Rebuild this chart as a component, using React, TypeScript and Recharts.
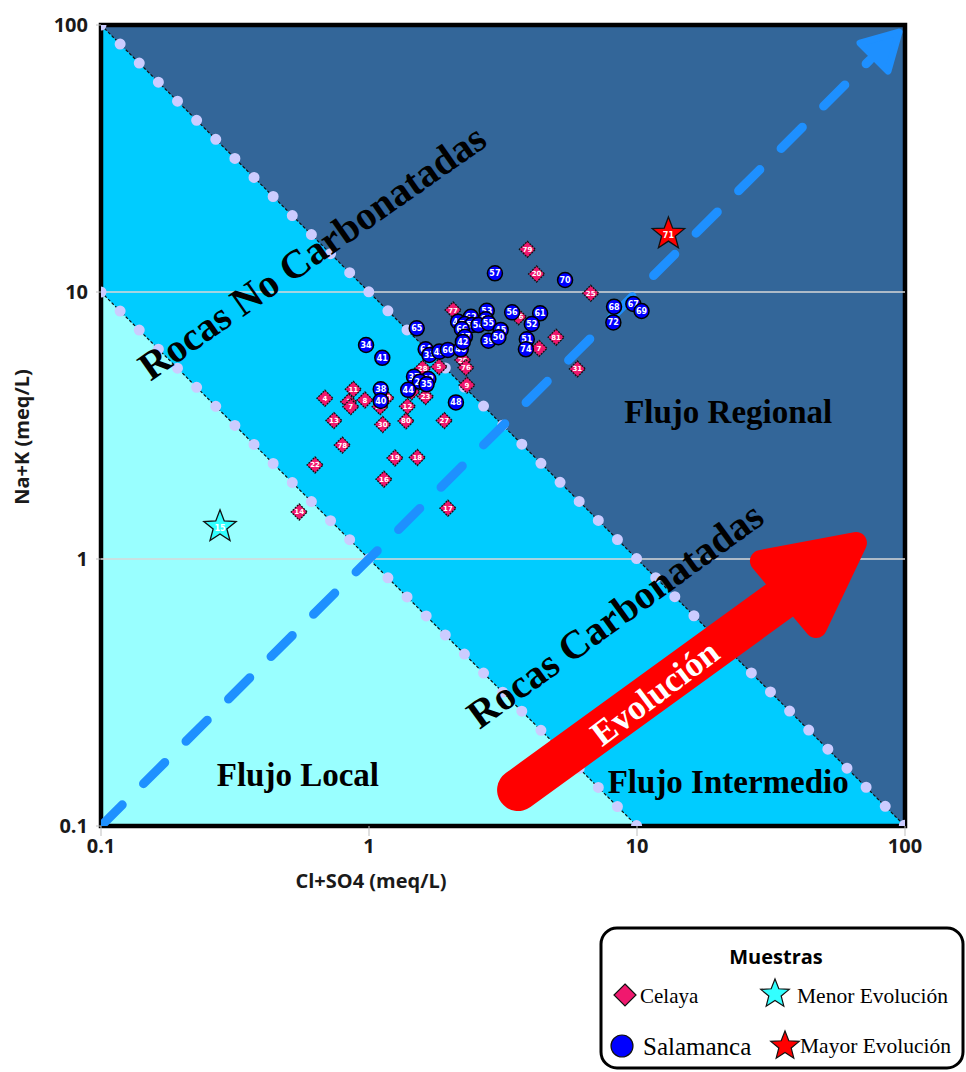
import {
  ComposedChart,
  Area,
  Line,
  Scatter,
  XAxis,
  YAxis,
  ReferenceLine,
  ReferenceArea,
  ReferenceDot,
} from "recharts";

// log axes, 0.1 .. 100 meq/L on both
const axisTicks = [0.1, 1, 10, 100];

// zone boundaries: Cl+SO4 * Na+K = 10 and = 1
const zoneMid = [
  { x: 0.1, y: 100 },
  { x: 100, y: 0.1 },
];
const zoneLow = [
  { x: 0.1, y: 10 },
  { x: 10, y: 0.1 },
];

// 1:1 evolution trend
const trendLine = [
  { x: 0.1, y: 0.1 },
  { x: 74, y: 74 },
];
const trendHead = { x: 100, y: 100 };

// big "Evolución" arrow
const evolShaft = [
  { x: 3.6, y: 0.1364 },
  { x: 36.7, y: 0.739 },
];
const evolHead = { x: 65.6, y: 1.148 };

const celayaPoints = [
  { id: "4", x: 0.685, y: 4.0 },
  { id: "11", x: 0.874, y: 4.32 },
  { id: "8", x: 0.966, y: 3.94 },
  { id: "3", x: 0.84, y: 3.88 },
  { id: "7", x: 0.855, y: 3.72 },
  { id: "21", x: 1.1, y: 3.72 },
  { id: "10", x: 1.157, y: 4.01 },
  { id: "13", x: 0.74, y: 3.3 },
  { id: "30", x: 1.125, y: 3.19 },
  { id: "80", x: 1.374, y: 3.29 },
  { id: "12", x: 1.392, y: 3.73 },
  { id: "78", x: 0.795, y: 2.67 },
  { id: "22", x: 0.629, y: 2.25 },
  { id: "19", x: 1.25, y: 2.39 },
  { id: "18", x: 1.514, y: 2.4 },
  { id: "16", x: 1.137, y: 1.99 },
  { id: "14", x: 0.549, y: 1.5 },
  { id: "17", x: 1.97, y: 1.55 },
  { id: "23", x: 1.625, y: 4.06 },
  { id: "6", x: 1.443, y: 4.23 },
  { id: "28", x: 1.586, y: 5.18 },
  { id: "5", x: 1.825, y: 5.25 },
  { id: "27", x: 1.91, y: 3.3 },
  { id: "29", x: 2.24, y: 5.56 },
  { id: "76", x: 2.3, y: 5.21 },
  { id: "9", x: 2.32, y: 4.48 },
  { id: "77", x: 2.06, y: 8.56 },
  { id: "26", x: 3.61, y: 8.08 },
  { id: "79", x: 3.9, y: 14.45 },
  { id: "20", x: 4.22, y: 11.68 },
  { id: "25", x: 6.72, y: 9.89 },
  { id: "81", x: 4.99, y: 6.77 },
  { id: "7", x: 4.31, y: 6.15 },
  { id: "31", x: 5.99, y: 5.15 },
];

const salamancaPoints = [
  { id: "65", x: 1.507, y: 7.31 },
  { id: "34", x: 0.975, y: 6.33 },
  { id: "41", x: 1.121, y: 5.67 },
  { id: "64", x: 1.627, y: 6.1 },
  { id: "33", x: 1.68, y: 5.81 },
  { id: "49", x: 1.83, y: 5.98 },
  { id: "60", x: 1.97, y: 6.07 },
  { id: "46", x: 2.2, y: 6.1 },
  { id: "37", x: 1.472, y: 4.82 },
  { id: "32", x: 1.665, y: 4.72 },
  { id: "24", x: 1.55, y: 4.61 },
  { id: "35", x: 1.64, y: 4.51 },
  { id: "38", x: 1.106, y: 4.32 },
  { id: "40", x: 1.106, y: 3.91 },
  { id: "44", x: 1.4, y: 4.3 },
  { id: "48", x: 2.11, y: 3.86 },
  { id: "43", x: 2.15, y: 7.74 },
  { id: "62", x: 2.4, y: 8.08 },
  { id: "53", x: 2.75, y: 8.51 },
  { id: "63", x: 2.73, y: 7.9 },
  { id: "59", x: 2.28, y: 7.59 },
  { id: "58", x: 2.42, y: 7.52 },
  { id: "54", x: 2.56, y: 7.52 },
  { id: "55", x: 2.79, y: 7.64 },
  { id: "66", x: 2.22, y: 7.27 },
  { id: "47", x: 2.28, y: 6.8 },
  { id: "42", x: 2.24, y: 6.5 },
  { id: "45", x: 3.1, y: 7.21 },
  { id: "39", x: 2.79, y: 6.57 },
  { id: "50", x: 3.04, y: 6.77 },
  { id: "56", x: 3.42, y: 8.39 },
  { id: "51", x: 3.88, y: 6.65 },
  { id: "74", x: 3.85, y: 6.1 },
  { id: "57", x: 2.95, y: 11.75 },
  { id: "70", x: 5.39, y: 11.09 },
  { id: "61", x: 4.35, y: 8.32 },
  { id: "52", x: 4.05, y: 7.59 },
  { id: "68", x: 8.21, y: 8.81 },
  { id: "72", x: 8.16, y: 7.69 },
  { id: "67", x: 9.69, y: 9.02 },
  { id: "69", x: 10.4, y: 8.49 },
];

const menorEvolucion = [{ id: "15", x: 0.278, y: 1.32 }];
const mayorEvolucion = [{ id: "71", x: 13.1, y: 16.5 }];

// rotated zone names, anchored at their centres
const zoneLabels = [
  { text: "Rocas No Carbonatadas", x: 0.613, y: 14.1, angle: -35, size: 40 },
  { text: "Rocas Carbonatadas", x: 8.28, y: 0.617, angle: -36, size: 40 },
  { text: "Flujo Regional", x: 21.9, y: 3.55, angle: 0, size: 33 },
  { text: "Flujo Local", x: 0.543, y: 0.155, angle: 0, size: 33 },
  { text: "Flujo Intermedio", x: 21.9, y: 0.146, angle: 0, size: 33 },
];

const SERIF = "'Liberation Serif', 'Times New Roman', serif";
const SANS = "'Open Sans', 'DejaVu Sans', sans-serif";

const COLORS = {
  regional: "#336699",
  intermedio: "#00CCFF",
  local: "#99FFFF",
  celaya: "#F0186E",
  salamanca: "#0000FF",
  trend: "#1E90FF",
  arrow: "#FF0000",
  boundaryDots: "#CCCCFF",
};

function starPoints(cx: number, cy: number, R: number, r: number) {
  const pts: string[] = [];
  for (let i = 0; i < 10; i++) {
    const rad = i % 2 === 0 ? R : r;
    const a = -Math.PI / 2 + (i * Math.PI) / 5;
    pts.push(`${cx + rad * Math.cos(a)},${cy + rad * Math.sin(a)}`);
  }
  return pts.join(" ");
}

const DiamondMark = (props: any) => {
  const { cx, cy, payload } = props;
  if (cx == null || cy == null) return null;
  const h = 8;
  return (
    <g>
      <polygon
        points={`${cx},${cy - h} ${cx + h},${cy} ${cx},${cy + h} ${cx - h},${cy}`}
        fill={COLORS.celaya}
        stroke="#111"
        strokeWidth={1.3}
        strokeDasharray="2 1"
      />
      <text
        x={cx}
        y={cy + 0.5}
        textAnchor="middle"
        dominantBaseline="central"
        fontSize={7}
        fontWeight="bold"
        fontFamily="'DejaVu Sans', sans-serif"
        fill="#fff"
      >
        {payload.id}
      </text>
    </g>
  );
};

const CircleMark = (props: any) => {
  const { cx, cy, payload } = props;
  if (cx == null || cy == null) return null;
  return (
    <g>
      <circle cx={cx} cy={cy} r={7.5} fill={COLORS.salamanca} stroke="#000" strokeWidth={1.5} />
      <text
        x={cx}
        y={cy + 0.5}
        textAnchor="middle"
        dominantBaseline="central"
        fontSize={8}
        fontWeight="bold"
        fontFamily="'DejaVu Sans', sans-serif"
        fill="#fff"
      >
        {payload.id}
      </text>
    </g>
  );
};

const starMark = (fill: string) => (props: any) => {
  const { cx, cy, payload } = props;
  if (cx == null || cy == null) return null;
  return (
    <g>
      <polygon points={starPoints(cx, cy, 17, 7.2)} fill={fill} stroke="#111" strokeWidth={1.3} />
      <text
        x={cx}
        y={cy + 1.5}
        textAnchor="middle"
        dominantBaseline="central"
        fontSize={8}
        fontWeight="bold"
        fontFamily="'DejaVu Sans', sans-serif"
        fill="#fff"
      >
        {payload.id}
      </text>
    </g>
  );
};

const tickStyle = { fontSize: 20, fontWeight: 700, fill: "#1a1a1a", fontFamily: SANS };
const fmtTick = (v: number) => String(v);

function Legend() {
  return (
    <svg
      width={368}
      height={147}
      style={{ position: "absolute", left: 598, top: 925 }}
    >
      <rect x={3} y={3} width={362} height={140} rx={16} fill="#fff" stroke="#000" strokeWidth={3} />
      <text x={178} y={39} textAnchor="middle" fontFamily={SANS} fontWeight={700} fontSize={20}>
        Muestras
      </text>
      <polygon points="27,59 38,70 27,81 16,70" fill={COLORS.celaya} stroke="#111" strokeWidth={1.2} />
      <text x={42} y={78} fontFamily={SERIF} fontSize={21}>
        Celaya
      </text>
      <polygon points={starPoints(177, 69, 15, 6.5)} fill="#33FFFF" stroke="#111" strokeWidth={1.2} />
      <text x={199} y={78} fontFamily={SERIF} fontSize={21.5}>
        Menor Evolución
      </text>
      <circle cx={24} cy={121} r={11} fill={COLORS.salamanca} stroke="#111" strokeWidth={1.2} />
      <text x={45} y={130} fontFamily={SERIF} fontSize={25}>
        Salamanca
      </text>
      <polygon points={starPoints(187, 121, 15, 6.5)} fill={COLORS.arrow} stroke="#111" strokeWidth={1.2} />
      <text x={202} y={128} fontFamily={SERIF} fontSize={21.5}>
        Mayor Evolución
      </text>
    </svg>
  );
}

export default function App() {
  return (
    <div style={{ position: "absolute", left: 0, top: 0, width: 966, height: 1072, background: "#fff" }}>
      <ComposedChart width={966} height={920} margin={{ top: 25, right: 61, bottom: 34, left: 0 }}>
        <XAxis
          dataKey="x"
          type="number"
          scale="log"
          domain={[0.1, 100]}
          allowDataOverflow
          ticks={axisTicks}
          tickFormatter={fmtTick}
          tick={tickStyle}
          tickSize={10}
          tickMargin={3}
          tickLine={{ stroke: "#BFBFBF" }}
          axisLine={false}
          height={60}
          label={({ viewBox }: any) => (
            <text
              x={viewBox.x + 270}
              y={viewBox.y + 62}
              textAnchor="middle"
              fontFamily={SANS}
              fontWeight={700}
              fontSize={20}
              fill="#1a1a1a"
            >
              Cl+SO4 (meq/L)
            </text>
          )}
        />
        <YAxis
          dataKey="y"
          type="number"
          scale="log"
          domain={[0.1, 100]}
          allowDataOverflow
          ticks={axisTicks}
          tickFormatter={fmtTick}
          tick={tickStyle}
          tickSize={5}
          tickMargin={8}
          tickLine={{ stroke: "#BFBFBF" }}
          axisLine={false}
          width={101}
          label={({ viewBox }: any) => (
            <text
              x={29}
              y={viewBox.y + 412}
              transform={`rotate(-90 29 ${viewBox.y + 412})`}
              textAnchor="middle"
              fontFamily={SANS}
              fontWeight={700}
              fontSize={20}
              fill="#1a1a1a"
            >
              Na+K (meq/L)
            </text>
          )}
        />

        {/* Flujo Regional fills the whole plot; the other zones sit on top */}
        <ReferenceArea x1={0.1} x2={100} y1={0.1} y2={100} fill={COLORS.regional} fillOpacity={1} stroke="none" />
        <Area
          data={zoneMid}
          dataKey="y"
          type="linear"
          baseValue={0.1}
          fill={COLORS.intermedio}
          fillOpacity={1}
          stroke="none"
          isAnimationActive={false}
        />
        <Area
          data={zoneLow}
          dataKey="y"
          type="linear"
          baseValue={0.1}
          fill={COLORS.local}
          fillOpacity={1}
          stroke="none"
          isAnimationActive={false}
        />

        <ReferenceLine y={10} stroke="#D9D9D9" strokeWidth={1.5} />
        <ReferenceLine y={1} stroke="#D9D9D9" strokeWidth={1.5} />

        {/* plot frame */}
        <ReferenceArea x1={0.1} x2={100} y1={0.1} y2={100} fill="none" stroke="#000" strokeWidth={4.5} />

        {/* zone boundaries: thin black dashes under lavender dots */}
        {[zoneMid, zoneLow].map((d, i) => (
          <Line
            key={`b${i}`}
            data={d}
            dataKey="y"
            type="linear"
            stroke="#111"
            strokeWidth={1.2}
            strokeDasharray="3 2"
            dot={false}
            activeDot={false}
            isAnimationActive={false}
          />
        ))}
        {[zoneMid, zoneLow].map((d, i) => (
          <Line
            key={`d${i}`}
            data={d}
            dataKey="y"
            type="linear"
            stroke={COLORS.boundaryDots}
            strokeWidth={11}
            strokeLinecap="round"
            strokeDasharray="0 27"
            dot={false}
            activeDot={false}
            isAnimationActive={false}
          />
        ))}

        <Line
          data={trendLine}
          dataKey="y"
          type="linear"
          stroke={COLORS.trend}
          strokeWidth={9}
          strokeLinecap="round"
          strokeDasharray="30 30"
          dot={false}
          activeDot={false}
          isAnimationActive={false}
        />
        <ReferenceDot
          x={trendHead.x}
          y={trendHead.y}
          ifOverflow="visible"
          shape={(p: any) => (
            <polygon
              points={`${p.cx - 6},${p.cy + 7} ${p.cx - 45},${p.cy + 18} ${p.cx - 17},${p.cy + 46}`}
              fill={COLORS.trend}
              stroke={COLORS.trend}
              strokeWidth={7}
              strokeLinejoin="round"
            />
          )}
        />

        <Line
          data={evolShaft}
          dataKey="y"
          type="linear"
          stroke={COLORS.arrow}
          strokeWidth={42}
          strokeLinecap="round"
          dot={false}
          activeDot={false}
          isAnimationActive={false}
        />
        <ReferenceDot
          x={evolHead.x}
          y={evolHead.y}
          ifOverflow="visible"
          shape={(p: any) => (
            <polygon
              points={`${p.cx},${p.cy} ${p.cx - 95},${p.cy + 18} ${p.cx - 40},${p.cy + 84}`}
              fill={COLORS.arrow}
              stroke={COLORS.arrow}
              strokeWidth={22}
              strokeLinejoin="round"
            />
          )}
        />
        <ReferenceDot
          x={11.67}
          y={0.315}
          shape={(p: any) => (
            <text
              x={p.cx}
              y={p.cy}
              transform={`rotate(-37 ${p.cx} ${p.cy})`}
              textAnchor="middle"
              dominantBaseline="central"
              fontFamily={SERIF}
              fontWeight={700}
              fontSize={35}
              fill="#fff"
            >
              Evolución
            </text>
          )}
        />

        {zoneLabels.map((l) => (
          <ReferenceDot
            key={l.text}
            x={l.x}
            y={l.y}
            shape={(p: any) => (
              <text
                x={p.cx}
                y={p.cy}
                transform={`rotate(${l.angle} ${p.cx} ${p.cy})`}
                textAnchor="middle"
                dominantBaseline="central"
                fontFamily={SERIF}
                fontWeight={700}
                fontSize={l.size}
                fill="#000"
              >
                {l.text}
              </text>
            )}
          />
        ))}

        <Scatter data={celayaPoints} dataKey="y" shape={DiamondMark} isAnimationActive={false} />
        <Scatter data={salamancaPoints} dataKey="y" shape={CircleMark} isAnimationActive={false} />
        <Scatter data={menorEvolucion} dataKey="y" shape={starMark("#33FFFF")} isAnimationActive={false} />
        <Scatter data={mayorEvolucion} dataKey="y" shape={starMark(COLORS.arrow)} isAnimationActive={false} />
      </ComposedChart>
      <Legend />
    </div>
  );
}
